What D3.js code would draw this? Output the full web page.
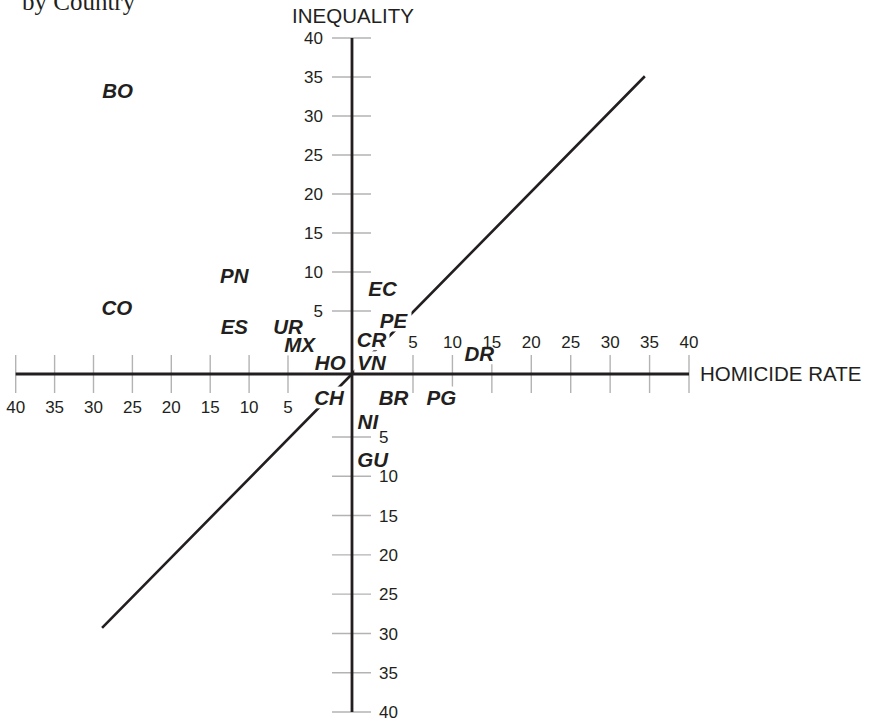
<!DOCTYPE html>
<html>
<head>
<meta charset="utf-8">
<script src="https://cdn.jsdelivr.net/npm/d3@7"></script>
<style>
  html, body { margin: 0; padding: 0; background: #fff; }
  svg { display: block; }
</style>
</head>
<body>
<svg id="chart" width="869" height="719"></svg>
<script>
// ---- data ----
const countries  = ["BO","CO","PN","ES","UR","MX","HO","VN","CR","CH","BR","PG","NI","GU","EC","PE","DR"];
const homicide   = [-26.9,-27.0,-11.9,-11.9,-5.0,-4.1,-1.7,1.6,1.6,-1.8,3.4,8.6,1.3,1.7,2.5,3.4,13.4];
const inequality = [33.3,5.4,9.5,3.8,3.8,2.3,0.9,0.9,2.7,-1.9,-1.9,-1.9,-3.8,-7.9,7.9,4.2,1.6];
const tickValues = [5,10,15,20,25,30,35,40];
const diagX = [-28.9, 0, 34.4];
const diagY = [-29.3, 0, 35.1];
const titleText = "by Country";
const xTitle = "HOMICIDE RATE";
const yTitle = "INEQUALITY";

// ---- layout ----
const W = 869, H = 719;
const ink = "#231f20", tickCol = "#b3b3b3";
const sans = "'Liberation Sans', Arial, Helvetica, sans-serif";

const x = d3.scaleLinear().domain([-40,-5,0,5,40]).range([15.7,288,352,413,689]);
const y = d3.scaleLinear().domain([-40,-5,0,5,40]).range([712,437,374,311,38]);

const svg = d3.select("#chart");
svg.append("rect").attr("width", W).attr("height", H).attr("fill", "#fff");

const defs = svg.append("defs");
const mask = defs.append("mask").attr("id","knock")
  .attr("maskUnits","userSpaceOnUse").attr("x",0).attr("y",0).attr("width",W).attr("height",H);
mask.append("rect").attr("width",W).attr("height",H).attr("fill","#fff");

// title
svg.append("text").attr("x", 22).attr("y", 10)
  .attr("font-family", "'Liberation Serif', 'Times New Roman', serif")
  .attr("font-size", 25).attr("fill", ink).text(titleText);

// masked group: ticks + diagonal
const mg = svg.append("g").attr("mask","url(#knock)");
const x0 = x(0), y0 = y(0);
const tl = 19;

mg.selectAll(".xtl").data(tickValues).join("line")
  .attr("x1", d => x(-d)).attr("x2", d => x(-d))
  .attr("y1", y0 - tl).attr("y2", y0 + tl)
  .attr("stroke", tickCol).attr("stroke-width", 1.4);
mg.selectAll(".xtr").data(tickValues).join("line")
  .attr("x1", d => x(d)).attr("x2", d => x(d))
  .attr("y1", y0 - tl).attr("y2", y0 + tl)
  .attr("stroke", tickCol).attr("stroke-width", 1.4);
mg.selectAll(".ytt").data(tickValues).join("line")
  .attr("y1", d => y(d)).attr("y2", d => y(d))
  .attr("x1", x0 - 20).attr("x2", x0 + tl)
  .attr("stroke", tickCol).attr("stroke-width", 1.4);
mg.selectAll(".ytb").data(tickValues).join("line")
  .attr("y1", d => y(-d)).attr("y2", d => y(-d))
  .attr("x1", x0 - 20).attr("x2", x0 + tl)
  .attr("stroke", tickCol).attr("stroke-width", 1.4);

// diagonal
const diag = diagX.map((v,i) => [v, diagY[i]]);
mg.append("path").datum(diag)
  .attr("d", d3.line().x(d => x(d[0])).y(d => y(d[1])))
  .attr("fill","none").attr("stroke", ink).attr("stroke-width", 2.6);

// main axes
svg.append("line").attr("x1", x(-40)).attr("x2", x(40)).attr("y1", y0).attr("y2", y0)
  .attr("stroke", ink).attr("stroke-width", 2.8);
svg.append("line").attr("x1", x0).attr("x2", x0).attr("y1", y(40)).attr("y2", y(-40))
  .attr("stroke", ink).attr("stroke-width", 2.8);

// tick labels
const tfs = 17;
const tg = svg.append("g").attr("font-family", sans).attr("font-size", tfs).attr("fill", ink);
tg.selectAll(".xll").data(tickValues).join("text")
  .attr("x", d => x(-d)).attr("y", y0 + 39).attr("text-anchor","middle").text(d => d);
tg.selectAll(".xlr").data(tickValues).join("text")
  .attr("x", d => x(d)).attr("y", y0 - 26.5).attr("text-anchor","middle").text(d => d);
tg.selectAll(".ylt").data(tickValues).join("text")
  .attr("x", x0 - 29).attr("y", d => y(d)).attr("dy","0.36em").attr("text-anchor","end").text(d => d);
tg.selectAll(".ylb").data(tickValues).join("text")
  .attr("x", x0 + 27).attr("y", d => y(-d)).attr("dy","0.36em").attr("text-anchor","start").text(d => d);

// axis titles
svg.append("text").attr("x", x0 + 1).attr("y", 22.5).attr("text-anchor","middle")
  .attr("font-family", sans).attr("font-size", 20.5).attr("fill", ink).text(yTitle);
svg.append("text").attr("x", 700).attr("y", y0).attr("dy","0.36em")
  .attr("font-family", sans).attr("font-size", 20.5).attr("fill", ink).text(xTitle);

// country labels
const lfs = 20.5;
const lg = svg.append("g").attr("font-family", sans).attr("font-size", lfs)
  .attr("font-weight","bold").attr("font-style","italic").attr("fill", ink);
const labels = lg.selectAll("text").data(countries).join("text")
  .attr("x", (d,i) => x(homicide[i]))
  .attr("y", (d,i) => y(inequality[i]))
  .attr("dy", "0.36em")
  .attr("text-anchor", "middle")
  .text(d => d);

// knock-outs behind labels (only for diagonal & ticks)
labels.each(function(d, i) {
  const bb = this.getBBox();
  const base = y(inequality[i]) + 0.36 * lfs;
  const cap = 0.72 * lfs;
  mask.append("rect")
    .attr("x", bb.x - 3).attr("width", bb.width + 6)
    .attr("y", base - cap - 4).attr("height", cap + 7)
    .attr("fill", "#000");
});
</script>
</body>
</html>
